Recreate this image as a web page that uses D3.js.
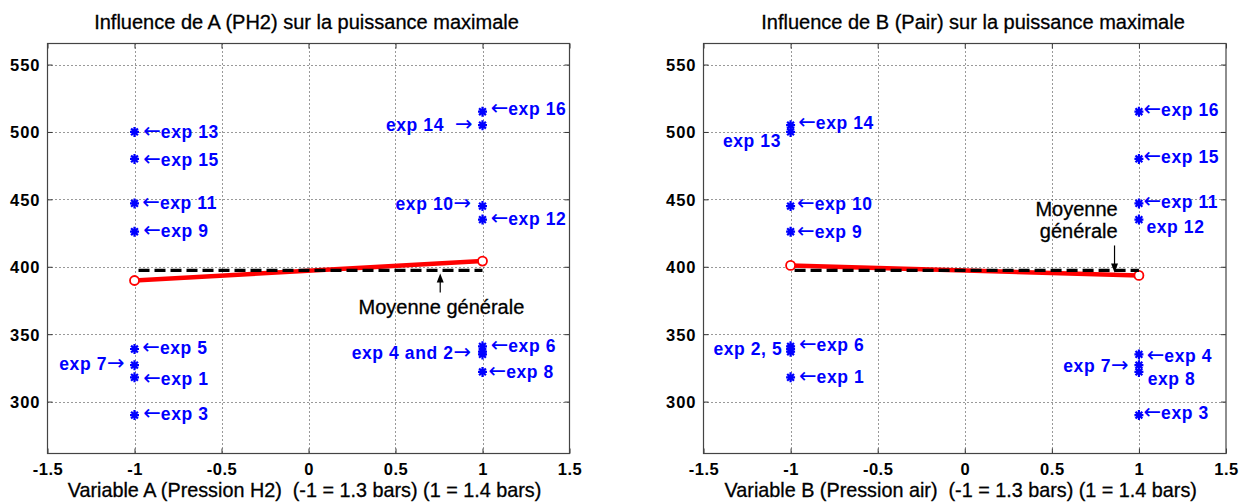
<!DOCTYPE html>
<html><head><meta charset="utf-8">
<script src="https://cdn.jsdelivr.net/npm/d3@7"></script>
<style>
body{margin:0;background:#fff}
text{font-family:"Liberation Sans",Arial,Helvetica,sans-serif;white-space:pre}
</style>
</head><body>
<svg id="chart" width="1243" height="502"></svg>
<script>
// ---- data ----
const xTicks = [-1.5, -1, -0.5, 0, 0.5, 1, 1.5];
const yTicks = [300, 350, 400, 450, 500, 550];
const yDomain = [261.5, 565.6];
const xDomain = [-1.5, 1.5];

const expNames = ["exp 1","exp 2","exp 3","exp 4","exp 5","exp 6","exp 7","exp 8",
                  "exp 9","exp 10","exp 11","exp 12","exp 13","exp 14","exp 15","exp 16"];
const powerMax = [318, 337, 290, 335, 339, 341, 327, 322, 426, 445, 447, 435, 500, 505, 480, 515];
const levelA   = [-1, 1, -1, 1, -1, 1, -1, 1, -1, 1, -1, 1, -1, 1, -1, 1];
const levelB   = [-1, -1, 1, 1, -1, -1, 1, 1, -1, -1, 1, 1, -1, -1, 1, 1];

const levels = [-1, 1];
const meanA = [389.8, 404.2];
const meanB = [401.0, 393.6];
const grandMean = 397.3;

const titles = ["Influence de A (PH2) sur la puissance maximale",
                "Influence de B (Pair) sur la puissance maximale"];
const xLabels = ["Variable A (Pression H2)  (-1 = 1.3 bars) (1 = 1.4 bars)",
                 "Variable B (Pression air)  (-1 = 1.3 bars) (1 = 1.4 bars)"];

// annotations: [text, x, y, anchor]
const notesA = [
  ["\u2190exp 16", 1.047, 517.3, "start"],
  ["exp 14  \u2192", 0.943, 505.2, "end"],
  ["\u2190exp 13", -0.95, 500.0, "start"],
  ["\u2190exp 15", -0.95, 479.7, "start"],
  ["\u2190exp 11", -0.955, 447.5, "start"],
  ["\u2190exp 9", -0.95, 426.4, "start"],
  ["exp 10\u2192", 0.935, 446.7, "end"],
  ["\u2190exp 12", 1.047, 435.6, "start"],
  ["\u2190exp 5", -0.955, 340.3, "start"],
  ["exp 7\u2192", -1.057, 328.4, "end"],
  ["\u2190exp 1", -0.95, 316.9, "start"],
  ["\u2190exp 3", -0.95, 290.9, "start"],
  ["exp 4 and 2\u2192", 0.935, 336.2, "end"],
  ["\u2190exp 6", 1.047, 341.1, "start"],
  ["\u2190exp 8", 1.035, 322.5, "start"]
];
const notesB = [
  ["\u2190exp 14", -0.956, 506.9, "start"],
  ["exp 13", -1.055, 493.8, "end"],
  ["\u2190exp 10", -0.963, 446.7, "start"],
  ["\u2190exp 9", -0.963, 425.7, "start"],
  ["exp 2, 5", -1.047, 339.1, "end"],
  ["\u2190exp 6", -0.952, 342.1, "start"],
  ["\u2190exp 1", -0.952, 318.6, "start"],
  ["\u2190exp 16", 1.026, 516.6, "start"],
  ["\u2190exp 15", 1.026, 481.4, "start"],
  ["\u2190exp 11", 1.026, 448.5, "start"],
  ["exp 12", 1.043, 429.4, "start"],
  ["\u2190exp 4", 1.045, 334.2, "start"],
  ["exp 7\u2192", 0.941, 326.7, "end"],
  ["exp 8", 1.05, 316.9, "start"],
  ["\u2190exp 3", 1.026, 292.1, "start"]
];
// mean annotation: lines of text, x, y of each line, anchor ; arrow [x, yFrom, yTo]
const meanNoteA = {lines: ["Moyenne générale"], x: 0.764, ys: [370.2], anchor: "middle", arrow: [0.757, 380.9, 395.0]};
const meanNoteB = {lines: ["Moyenne", "générale"], x: 0.878, ys: [443.1, 427.0], anchor: "end", arrow: [0.86, 415.8, 395.8]};

// ---- drawing ----
const svg = d3.select("#chart");
const plotTop = 43.5, plotBottom = 453.5;
const panels = [
  {left: 47.5, right: 569.5, titleX: 306.5, levels: levelA, means: meanA, notes: notesA, meanNote: meanNoteA, title: titles[0], xlabel: xLabels[0]},
  {left: 703.5, right: 1226, titleX: 973, levels: levelB, means: meanB, notes: notesB, meanNote: meanNoteB, title: titles[1], xlabel: xLabels[1]}
];
const fmt = d => String(d);

panels.forEach(p => {
  const g = svg.append("g");
  const x = d3.scaleLinear().domain(xDomain).range([p.left, p.right]);
  const y = d3.scaleLinear().domain(yDomain).range([plotBottom, plotTop]);

  // grid
  g.append("g").selectAll("line").data(xTicks.slice(1, -1)).join("line")
    .attr("x1", d => Math.round(x(d)) + 0.5).attr("x2", d => Math.round(x(d)) + 0.5)
    .attr("y1", plotTop).attr("y2", plotBottom)
    .attr("stroke", "#333").attr("stroke-width", 1).attr("stroke-dasharray", "1,3");
  g.append("g").selectAll("line").data(yTicks).join("line")
    .attr("y1", d => Math.round(y(d)) + 0.5).attr("y2", d => Math.round(y(d)) + 0.5)
    .attr("x1", p.left).attr("x2", p.right)
    .attr("stroke", "#333").attr("stroke-width", 1).attr("stroke-dasharray", "1,3");

  // axes with inward ticks (bottom/top/left/right)
  const axB = g.append("g").attr("transform", `translate(0,${plotBottom})`)
    .call(d3.axisBottom(x).tickValues(xTicks).tickSize(-5).tickPadding(10).tickFormat(fmt));
  const axT = g.append("g").attr("transform", `translate(0,${plotTop})`)
    .call(d3.axisTop(x).tickValues(xTicks).tickSize(-5).tickFormat(""));
  const axL = g.append("g").attr("transform", `translate(${p.left},0)`)
    .call(d3.axisLeft(y).tickValues(yTicks).tickSize(-5).tickPadding(7).tickFormat(fmt));
  const axR = g.append("g").attr("transform", `translate(${p.right},0)`)
    .call(d3.axisRight(y).tickValues(yTicks).tickSize(-5).tickFormat(""));
  [axB, axT, axL, axR].forEach(a => {
    a.select(".domain").remove();
    a.selectAll(".tick line").attr("stroke", "#333");
  });
  axB.selectAll(".tick text").attr("font-size", 16.5).attr("font-weight", "bold").attr("fill", "#000")
    .attr("letter-spacing", 0.5);
  axL.selectAll(".tick text").attr("font-size", 16.5).attr("font-weight", "bold").attr("fill", "#000")
    .attr("letter-spacing", 1.0).attr("dy", "0.36em");

  // box
  g.append("rect").attr("x", p.left).attr("y", plotTop)
    .attr("width", p.right - p.left).attr("height", plotBottom - plotTop)
    .attr("fill", "none").attr("stroke", "#444").attr("stroke-width", 1.2);

  // star markers
  const starPath = "M-4.5,0L4.5,0M0,-5L0,5M-3.4,-3.4L3.4,3.4M-3.4,3.4L3.4,-3.4";
  g.append("g").selectAll("path").data(powerMax).join("path")
    .attr("d", starPath)
    .attr("transform", (d, i) => `translate(${x(p.levels[i])},${y(d)})`)
    .attr("stroke", "#0000ff").attr("stroke-width", 2.2).attr("fill", "none");

  // red mean line
  const lineGen = d3.line().x((d, i) => x(levels[i])).y(d => y(d));
  g.append("path").datum(p.means).attr("d", lineGen)
    .attr("fill", "none").attr("stroke", "#ff0000").attr("stroke-width", 4.5);
  g.append("g").selectAll("circle").data(p.means).join("circle")
    .attr("cx", (d, i) => x(levels[i])).attr("cy", d => y(d)).attr("r", 4.5)
    .attr("fill", "#fff").attr("stroke", "#ff0000").attr("stroke-width", 1.8);

  // grand mean dashed
  g.append("line")
    .attr("x1", x(levels[0])).attr("x2", x(levels[1]))
    .attr("y1", y(grandMean)).attr("y2", y(grandMean))
    .attr("stroke", "#000").attr("stroke-width", 3.2)
    .attr("stroke-dasharray", "11,5").attr("stroke-dashoffset", 12);

  // blue annotations (arrows as separate tspans)
  const notes = g.append("g").selectAll("text").data(p.notes).join("text")
    .attr("x", d => x(d[1])).attr("y", d => y(d[2])).attr("dy", "0.36em")
    .attr("text-anchor", d => d[3])
    .attr("font-size", 17.5).attr("font-weight", "bold").attr("fill", "#0000ff");
  notes.each(function(d) {
    const t = d3.select(this);
    d[0].split(/([\u2190\u2192])/).filter(s => s.length).forEach(part => {
      if (part === "\u2190" || part === "\u2192") {
        t.append("tspan").attr("font-family", "'DejaVu Sans', sans-serif")
          .attr("font-weight", "normal").attr("font-size", 21).text(part);
      } else {
        t.append("tspan").attr("letter-spacing", 0.6).text(part);
      }
    });
  });

  // mean annotation
  const mn = p.meanNote;
  g.append("g").selectAll("text").data(mn.lines).join("text")
    .attr("x", x(mn.x)).attr("y", (d, i) => y(mn.ys[i])).attr("dy", "0.36em")
    .attr("text-anchor", mn.anchor).attr("font-size", 20).attr("fill", "#000")
    .attr("stroke", "#000").attr("stroke-width", 0.3)
    .text(d => d);
  const ax0 = x(mn.arrow[0]), ya = y(mn.arrow[1]), yb = y(mn.arrow[2]);
  const dir = yb < ya ? 1 : -1; // 1 = pointing up
  g.append("line").attr("x1", ax0).attr("x2", ax0).attr("y1", ya).attr("y2", yb + dir * 6)
    .attr("stroke", "#000").attr("stroke-width", 1.2);
  g.append("path")
    .attr("d", `M${ax0},${yb}L${ax0 - 3.5},${yb + dir * 9}L${ax0 + 3.5},${yb + dir * 9}Z`)
    .attr("fill", "#000");

  // title & xlabel
  g.append("text").attr("x", p.titleX).attr("y", 28.8)
    .attr("text-anchor", "middle").attr("font-size", 20).attr("fill", "#000")
    .attr("stroke", "#000").attr("stroke-width", 0.3).text(p.title);
  g.append("text").attr("x", (p.left + p.right) / 2 - 4).attr("y", 497)
    .attr("text-anchor", "middle").attr("font-size", 19.8).attr("fill", "#000")
    .attr("stroke", "#000").attr("stroke-width", 0.3).text(p.xlabel);
});
</script>
</body></html>
